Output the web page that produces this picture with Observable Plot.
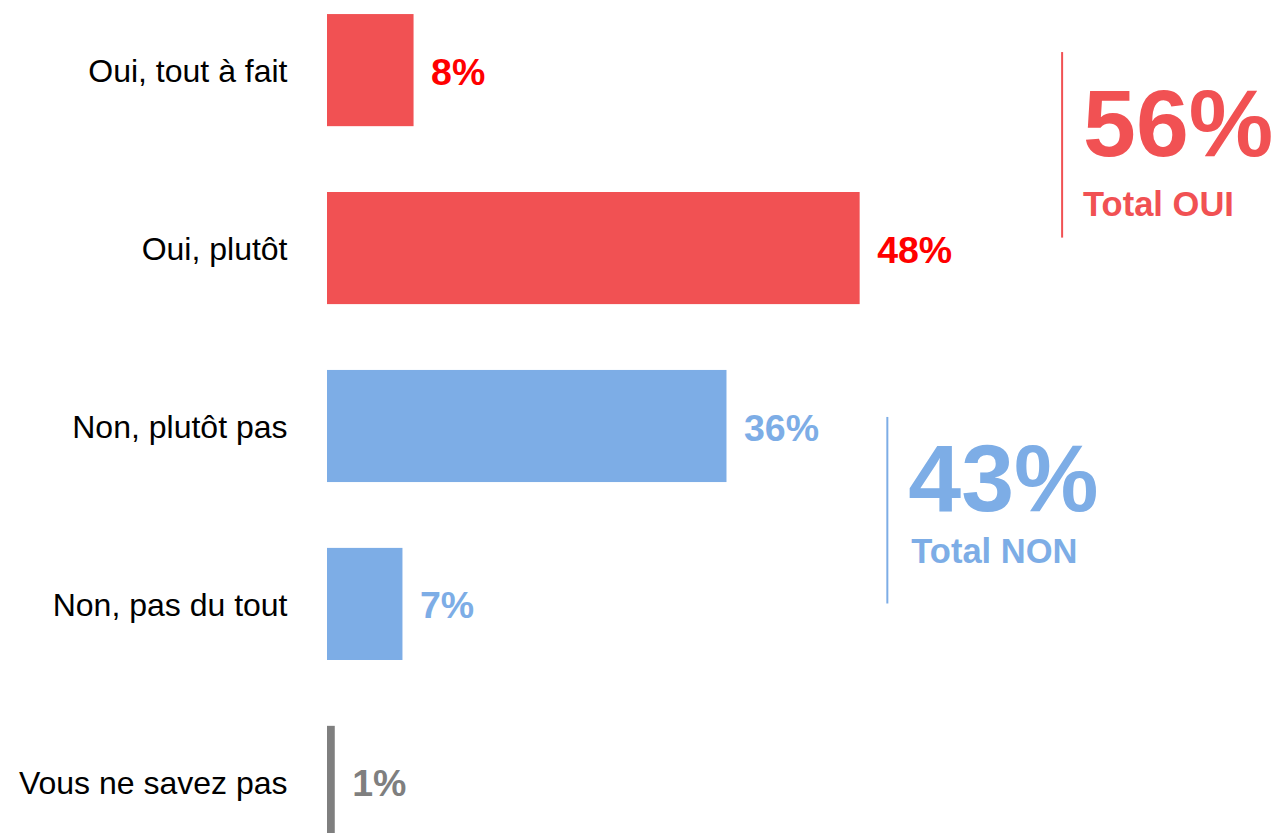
<!DOCTYPE html>
<html>
<head>
<meta charset="utf-8">
<script src="https://cdn.jsdelivr.net/npm/d3@7"></script>
<script src="https://cdn.jsdelivr.net/npm/@observablehq/plot@0.6"></script>
<style>
  html, body { margin: 0; padding: 0; background: #fff; overflow: hidden; }
  #chart svg { display: block; }
</style>
</head>
<body>
<div id="chart"></div>
<script>
// ---- data ----
const categories = ["Oui, tout à fait", "Oui, plutôt", "Non, plutôt pas", "Non, pas du tout", "Vous ne savez pas"];
const values = [7.8, 48, 36.0, 6.8, 0.7];
const valueLabels = ["8%", "48%", "36%", "7%", "1%"];
const groups = ["oui", "oui", "non", "non", "nsp"];

const totalGroups = ["oui", "non"];
const totalValues = ["56%", "43%"];
const totalTexts = ["Total OUI", "Total NON"];
const totalFrom = ["Oui, tout à fait", "Non, plutôt pas"];
const totalTo = ["Oui, plutôt", "Non, pas du tout"];

// ---- styles / layout ----
const barColors = {oui: "#F15153", non: "#7DADE6", nsp: "#7F7F7F"};
const labelColors = {oui: "#FF0000", non: "#7DADE6", nsp: "#7F7F7F"};
const annLayout = [
  {x: 66.2, insetTop: 38, insetBottom: 66.5, dyBig: 85, dySub: 145, dxSub: 21},
  {x: 50.45, insetTop: 47, insetBottom: 56.5, dyBig: 84.5, dySub: 136.5, dxSub: 24}
];
const font = "'Liberation Sans', Arial, Helvetica, sans-serif";

const rows = categories.map((c, i) => ({cat: c, value: values[i], label: valueLabels[i], group: groups[i]}));
const totals = totalGroups.map((g, i) => ({
  group: g, value: totalValues[i], text: totalTexts[i], from: totalFrom[i], to: totalTo[i], ...annLayout[i]
}));

const annMarks = totals.flatMap(t => [
  Plot.ruleX([t], {x: "x", y1: "from", y2: "to", insetTop: t.insetTop, insetBottom: t.insetBottom,
    stroke: barColors[t.group], strokeWidth: 2}),
  Plot.text([t], {x: "x", y: "from", text: "value", dx: 21, dy: t.dyBig, textAnchor: "start",
    lineAnchor: "bottom", fill: barColors[t.group], fontSize: 95, fontWeight: "bold", fontFamily: font}),
  Plot.text([t], {x: "x", y: "from", text: "text", dx: t.dxSub, dy: t.dySub, textAnchor: "start",
    lineAnchor: "bottom", fill: barColors[t.group], fontSize: 34.5, fontWeight: "bold", fontFamily: font})
]);

const chart = Plot.plot({
  width: 1278,
  height: 852,
  marginLeft: 327,
  marginRight: 0,
  marginTop: 0,
  marginBottom: 0,
  style: {fontFamily: font, background: "#fff", overflow: "visible"},
  x: {domain: [0, 85.7], axis: null},
  y: {domain: categories, paddingInner: 0.37, paddingOuter: 0.079, round: false, axis: null},
  marks: [
    Plot.barX(rows, {x: "value", y: "cat", fill: d => barColors[d.group]}),
    Plot.text(rows, {y: "cat", text: "cat", frameAnchor: "left", textAnchor: "end", dx: -40, dy: 1,
      fill: "#000", fontSize: 32, fontFamily: font}),
    Plot.text(rows, {x: "value", y: "cat", text: "label", dx: 17, dy: 2, textAnchor: "start",
      fill: d => labelColors[d.group], fontSize: 37.5, fontWeight: "bold", fontFamily: font}),
    ...annMarks
  ]
});
document.getElementById("chart").append(chart);
</script>
</body>
</html>
